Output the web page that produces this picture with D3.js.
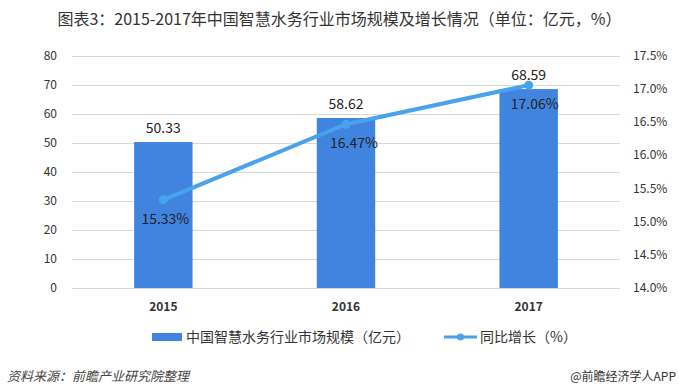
<!DOCTYPE html>
<html>
<head>
<meta charset="utf-8">
<script src="https://cdn.jsdelivr.net/npm/d3@7"></script>
<style>
  body { margin: 0; background: #fff; }
  text { font-family: "Noto Sans CJK SC", sans-serif; }
</style>
</head>
<body>
<div id="app"></div>
<script>

var years = ["2015", "2016", "2017"];
var marketSize = [50.33, 58.62, 68.59];
var growth = [15.33, 16.47, 17.06];
var leftTicks = [0, 10, 20, 30, 40, 50, 60, 70, 80];
var rightTicks = [14.0, 14.5, 15.0, 15.5, 16.0, 16.5, 17.0, 17.5];

var W = 679, H = 392;
var plotLeft = 72, plotRight = 620, plotTop = 56, plotBottom = 288;
var barColor = "#4184e0", lineColor = "#48a2ec", textColor = "#333";

var svg = d3.select("#app")
    .append("svg")
    .attr("width", W)
    .attr("height", H);

svg.append("rect").attr("width", W).attr("height", H).style("fill", "#fff");

svg.append("text")
    .attr("x", W / 2)
    .attr("y", 25)
    .attr("text-anchor", "middle")
    .style("font-size", "16px")
    .style("fill", "#333")
    .text("图表3：2015-2017年中国智慧水务行业市场规模及增长情况（单位：亿元，%）");

var x = d3.scaleBand().domain(years).range([plotLeft, plotRight]).paddingInner(0.68).paddingOuter(0.34);
var y = d3.scaleLinear().domain([0, 80]).range([plotBottom, plotTop]);
var y2 = d3.scaleLinear().domain([14, 17.5]).range([plotBottom, plotTop]);

// gridlines
svg.selectAll(".grid")
    .data(leftTicks)
    .enter()
    .append("line")
    .attr("x1", plotLeft).attr("x2", plotRight)
    .attr("y1", function (d) { return y(d) + 0.5; })
    .attr("y2", function (d) { return y(d) + 0.5; })
    .style("stroke", "#d9d9d9")
    .style("stroke-width", 1);

// left axis labels
svg.selectAll(".ltick")
    .data(leftTicks)
    .enter()
    .append("text")
    .attr("x", 57)
    .attr("y", function (d) { return y(d) + 4; })
    .attr("text-anchor", "end")
    .style("font-size", "12px")
    .style("fill", textColor)
    .text(function (d) { return d; });

// right axis labels
svg.selectAll(".rtick")
    .data(rightTicks)
    .enter()
    .append("text")
    .attr("x", 633)
    .attr("y", function (d) { return y2(d) + 4; })
    .style("font-size", "12px")
    .style("fill", textColor)
    .text(function (d) { return d.toFixed(1) + "%"; });

// bars
svg.selectAll(".bar")
    .data(marketSize)
    .enter()
    .append("rect")
    .attr("x", function (d, i) { return x(years[i]); })
    .attr("y", function (d) { return y(d); })
    .attr("width", x.bandwidth())
    .attr("height", function (d) { return plotBottom - y(d); })
    .style("fill", barColor);

svg.selectAll(".barlabel")
    .data(marketSize)
    .enter()
    .append("text")
    .attr("x", function (d, i) { return x(years[i]) + x.bandwidth() / 2; })
    .attr("y", function (d) { return y(d) - 9; })
    .attr("text-anchor", "middle")
    .style("font-size", "14px")
    .style("fill", "#222")
    .text(function (d) { return d.toFixed(2); });

// x labels
svg.selectAll(".xlabel")
    .data(years)
    .enter()
    .append("text")
    .attr("x", function (d) { return x(d) + x.bandwidth() / 2; })
    .attr("y", 311)
    .attr("text-anchor", "middle")
    .style("font-size", "12px")
    .style("font-weight", "bold")
    .style("fill", textColor)
    .text(function (d) { return d; });

// growth line
var cx = function (d, i) { return x(years[i]) + x.bandwidth() / 2; };
var line = d3.line()
    .x(cx)
    .y(function (d) { return y2(d); });

svg.append("path")
    .datum(growth)
    .attr("d", line)
    .style("fill", "none")
    .style("stroke", lineColor)
    .style("stroke-width", 4)
    .style("stroke-linecap", "round");

svg.selectAll(".dot")
    .data(growth)
    .enter()
    .append("circle")
    .attr("cx", cx)
    .attr("cy", function (d) { return y2(d); })
    .attr("r", 4.5)
    .style("fill", lineColor);

svg.selectAll(".linelabel")
    .data(growth)
    .enter()
    .append("text")
    .attr("x", function (d, i) { return cx(d, i) + [2, 8, 6][i]; })
    .attr("y", function (d) { return y2(d) + 24; })
    .attr("text-anchor", "middle")
    .style("font-size", "14px")
    .style("fill", "#222")
    .text(function (d) { return d.toFixed(2) + "%"; });

// legend
var lg = svg.append("g").attr("transform", "translate(0, 337)");
lg.append("rect").attr("x", 152).attr("y", -4).attr("width", 30).attr("height", 8).style("fill", barColor);
lg.append("text").attr("x", 186).attr("y", 5).style("font-size", "14px").style("fill", textColor)
    .text("中国智慧水务行业市场规模（亿元）");
lg.append("line").attr("x1", 444).attr("x2", 477).attr("y1", 0).attr("y2", 0)
    .style("stroke", lineColor).style("stroke-width", 3);
lg.append("circle").attr("cx", 460.5).attr("cy", 0).attr("r", 3.5).style("fill", lineColor);
lg.append("text").attr("x", 480).attr("y", 5).style("font-size", "14px").style("fill", textColor)
    .text("同比增长（%）");

// footer
svg.append("text")
    .attr("x", 7).attr("y", 381)
    .style("font-size", "13px")
    .style("font-style", "italic")
    .style("fill", "#444")
    .text("资料来源：前瞻产业研究院整理");

svg.append("text")
    .attr("x", 676).attr("y", 381)
    .attr("text-anchor", "end")
    .style("font-size", "12px")
    .style("fill", "#333")
    .text("@前瞻经济学人APP");

</script>
</body>
</html>
